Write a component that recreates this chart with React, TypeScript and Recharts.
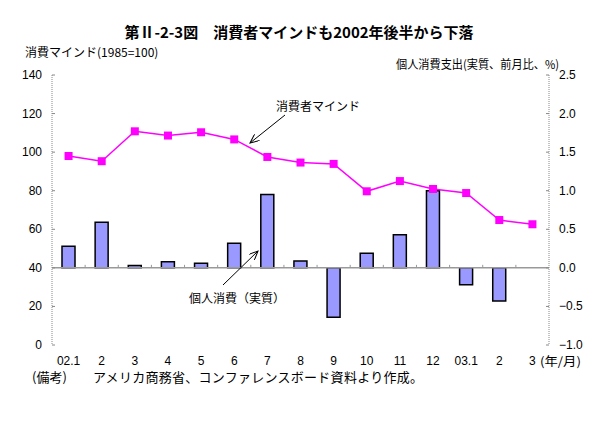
import React from 'react';
import { ComposedChart, Bar, Line, XAxis, YAxis, ReferenceLine } from 'recharts';

const months = ['02.1', '2', '3', '4', '5', '6', '7', '8', '9', '10', '11', '12', '03.1', '2', '3'];
// 消費者マインド (1985=100)
const sentiment = [98.0, 95.3, 110.8, 108.6, 110.3, 106.6, 97.5, 94.6, 93.9, 79.7, 85.0, 80.9, 78.8, 64.8, 62.6];
// 個人消費 (実質、前月比、%)
const consumption = [0.28, 0.59, 0.03, 0.08, 0.06, 0.32, 0.95, 0.09, -0.64, 0.19, 0.43, 1.0, -0.22, -0.43, null];
const leftTicks = [0, 20, 40, 60, 80, 100, 120, 140];
const rightTicks = [-1.0, -0.5, 0.0, 0.5, 1.0, 1.5, 2.0, 2.5];

const data = months.map((m, i) => ({ month: m, sentiment: sentiment[i], consumption: consumption[i] }));

const FONT = '"Liberation Sans", Arial, "Noto Sans CJK JP", sans-serif';
const JP = '"Noto Sans CJK JP", "Liberation Sans", sans-serif';

const LeftTick = (props: any) => {
  const { x, y, payload } = props;
  return (
    <g>
      <line x1={x + 10} x2={x + 13} y1={y} y2={y} stroke="#888" />
      <text x={x} y={y} dy={4} textAnchor="end" fontSize={12} fontFamily={FONT} fill="#000">
        {payload.value}
      </text>
    </g>
  );
};

const RightTick = (props: any) => {
  const { x, y, payload } = props;
  const v = Number(payload.value);
  const label = v < 0 ? '\u2212' + Math.abs(v).toFixed(1) : v.toFixed(1);
  return (
    <g>
      <line x1={x - 10} x2={x - 13} y1={y} y2={y} stroke="#888" />
      <text x={x} y={y} dy={4} textAnchor="start" fontSize={12} fontFamily={FONT} fill="#000">
        {label}
      </text>
    </g>
  );
};

const SquareDot = (props: any) => {
  const { cx, cy } = props;
  if (cx == null || cy == null) return null;
  return <rect x={cx - 4} y={cy - 4} width={8} height={8} fill="#FF00FF" />;
};

// zero line of the right axis, with small ticks between months
const ZeroLine = (props: any) => {
  const { x1, x2, y1 } = props;
  const step = (x2 - x1) / months.length;
  return (
    <g>
      <line x1={x1} x2={x2} y1={y1} y2={y1} stroke="#999" strokeWidth={1.5} />
      {months.slice(1).map((_, i) => (
        <line key={i} x1={x1 + step * (i + 1)} x2={x1 + step * (i + 1)} y1={y1} y2={y1 - 3} stroke="#999" />
      ))}
    </g>
  );
};

export default function App() {
  return (
    <div style={{ position: 'absolute', left: 0, top: 0, width: 606, height: 432, background: '#fff' }}>
      <ComposedChart width={606} height={432} data={data} margin={{ top: 75, right: 0, bottom: 67, left: 0 }} barSize={13}>
        <XAxis dataKey="month" axisLine={false} tickLine={false} tickSize={0} tickMargin={11}
          tick={{ fontSize: 12, fontFamily: FONT, fill: '#000' }} height={20} interval={0} />
        <YAxis yAxisId="left" orientation="left" width={52} domain={[0, 140]} ticks={leftTicks}
          tickSize={0} tickMargin={10} tickLine={false} axisLine={{ stroke: '#888', strokeDasharray: '1 1' }}
          tick={<LeftTick />} interval={0} />
        <YAxis yAxisId="right" orientation="right" width={57} domain={[-1, 2.5]} ticks={rightTicks}
          tickSize={0} tickMargin={10} tickLine={false} axisLine={{ stroke: '#888', strokeDasharray: '1 1' }}
          tick={<RightTick />} interval={0} />
        <ReferenceLine yAxisId="right" y={0} shape={<ZeroLine />} />
        <Bar yAxisId="right" dataKey="consumption" fill="#9999FF" stroke="#000" strokeWidth={1.5} isAnimationActive={false} />
        <Line yAxisId="left" dataKey="sentiment" stroke="#FF00FF" strokeWidth={1.5} dot={<SquareDot />}
          activeDot={false} isAnimationActive={false} />
      </ComposedChart>
      <svg width={606} height={432} style={{ position: 'absolute', left: 0, top: 0, pointerEvents: 'none' }}>
        <defs>
          <marker id="arr" markerWidth="10" markerHeight="8" refX="9" refY="4" orient="auto" markerUnits="userSpaceOnUse">
            <path d="M0,0 L9,4 L0,8" fill="none" stroke="#000" strokeWidth={1} />
          </marker>
        </defs>
        <text x={299} y={38} textAnchor="middle" fontSize={15} fontFamily={JP} fontWeight="bold" fill="#000">
          第Ⅱ-2-3図　消費者マインドも2002年後半から下落
        </text>
        <text x={25} y={57} fontSize={12} fontFamily={JP} fill="#000">消費マインド(1985=100)</text>
        <text x={396} y={69} fontSize={12} fontFamily={JP} fill="#000" textLength={163} lengthAdjust="spacingAndGlyphs">
          個人消費支出(実質、前月比、%)
        </text>
        <text x={540} y={366} fontSize={12} fontFamily={JP} fill="#000" textLength={41} lengthAdjust="spacingAndGlyphs">(年/月)</text>
        <text x={32} y={382} fontSize={13} fontFamily={JP} fill="#000">(備考)</text>
        <text x={93} y={382} fontSize={13} fontFamily={JP} fill="#000" textLength={330} lengthAdjust="spacing">
          アメリカ商務省、コンファレンスボード資料より作成。
        </text>
        <text x={318} y={111} textAnchor="middle" fontSize={12} fontFamily={JP} fill="#000">消費者マインド</text>
        <line x1={285} y1={115} x2={250} y2={143} stroke="#000" strokeWidth={1} markerEnd="url(#arr)" />
        <text x={237} y={303} textAnchor="middle" fontSize={12} fontFamily={JP} fill="#000">個人消費（実質）</text>
        <line x1={223} y1={285} x2={258} y2={251} stroke="#000" strokeWidth={1} markerEnd="url(#arr)" />
      </svg>
    </div>
  );
}
